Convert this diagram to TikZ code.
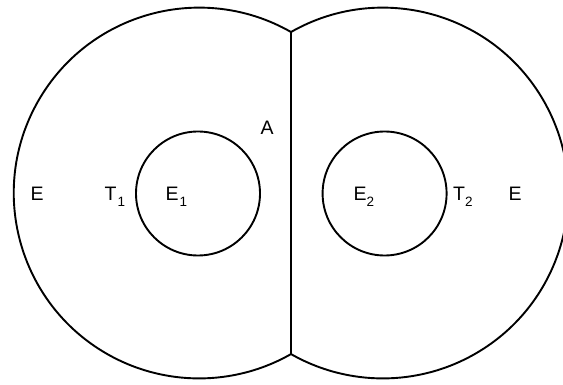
\documentclass[tikz,border=0pt]{standalone}
\usepackage{fontspec}
\setmainfont{Liberation Sans}
\newcommand{\subsc}[1]{\raisebox{-0.3em}{\fontsize{13.5}{13.5}\selectfont #1}}
\begin{document}
\begin{tikzpicture}[x=1pt,y=-1pt,
  curve/.style={line width=1.9pt,black},
  lab/.style={inner sep=0pt,anchor=base west,font=\fontsize{19.5}{19.5}\selectfont}]
\useasboundingbox (0,0) rectangle (563,385);
\clip (0,0) rectangle (563,385);
% outer circles (clipped at the vertical line)
\draw[curve] (291,32) arc[start angle=-60.3,end angle=-299.7,radius=185.4];
\draw[curve] (291,32) arc[start angle=-119.7,end angle=119.7,radius=185.4];
\draw[curve] (291,32) -- (291,355);
% inner circles
\draw[curve] (198,193.5) circle[radius=62];
\draw[curve] (384.6,193.5) circle[radius=62];
% labels
\node[lab] (eL) at (30.5,200.5) {E};
\node[lab] (t1) at (104.5,200.5) {T\hspace{1pt}\subsc{1}};
\node[lab] (e1) at (165.5,200.5) {E\hspace{1pt}\subsc{1}};
\node[lab] (a) at (260.5,135) {A};
\node[lab] (e2) at (353.5,200.5) {E\subsc{2}};
\node[lab] (t2) at (453,200.5) {T\subsc{2}};
\node[lab] (eR) at (508.5,200.5) {E};
\end{tikzpicture}
\end{document}
